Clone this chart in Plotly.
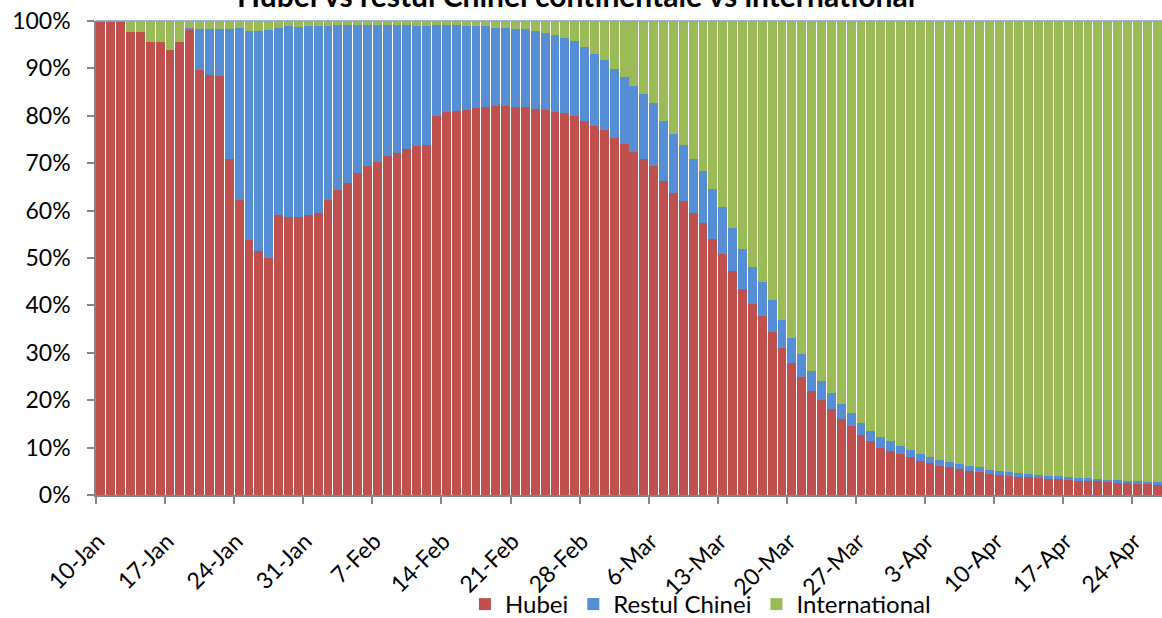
import pandas as pd
import plotly.graph_objects as go

# Share of cumulative cases (%), one value per day starting 10-Jan-2020
hubei = [100, 100, 100, 97.7, 97.7, 95.5, 95.5, 93.8, 95.5, 98.0,
         89.6, 88.7, 88.4, 70.9, 62.2, 53.9, 51.4, 49.9, 59.0, 58.6,
         58.6, 59.0, 59.6, 62.3, 64.3, 65.8, 67.9, 69.5, 70.3, 71.6,
         72.2, 73.1, 73.6, 73.9, 79.9, 80.7, 81.1, 81.3, 81.6, 81.85,
         82.1, 82.0, 81.8, 81.8, 81.4, 81.2, 80.9, 80.5, 80.0, 79.0,
         77.9, 76.9, 75.4, 74.1, 72.3, 70.9, 69.5, 66.2, 63.8, 62.0,
         59.5, 57.4, 54.1, 50.8, 47.2, 43.4, 40.4, 37.7, 34.4, 31.1,
         27.8, 24.9, 21.9, 20.0, 18.1, 16.1, 14.5, 12.7, 11.3, 10.0,
         9.35, 8.57, 7.94, 7.24, 6.67, 6.18, 5.83, 5.4, 4.98, 4.77,
         4.5, 4.25, 4.0, 3.86, 3.7, 3.5, 3.44, 3.3, 3.16, 3.0,
         2.95, 2.87, 2.74, 2.53, 2.45, 2.38, 2.38, 2.17]

# Hubei + rest of mainland China (%)
china_total = [100, 100, 100, 97.7, 97.7, 95.5, 95.5, 93.8, 95.5, 98.6,
               98.3, 98.4, 98.4, 98.4, 98.6, 97.8, 97.9, 98.1, 98.6, 98.9,
               98.7, 98.9, 98.9, 98.9, 99.1, 99.1, 99.1, 99.1, 99.1, 99.1,
               99.1, 99.1, 99.0, 98.9, 99.2, 99.2, 99.1, 98.9, 98.9, 98.9,
               98.6, 98.5, 98.4, 98.3, 97.8, 97.4, 97.0, 96.5, 95.7, 94.6,
               93.1, 91.8, 89.9, 88.2, 86.2, 84.5, 82.8, 79.0, 76.1, 73.8,
               70.9, 68.4, 64.5, 60.7, 56.3, 51.8, 48.0, 44.9, 41.1, 37.0,
               33.2, 29.7, 26.2, 24.0, 21.6, 19.3, 17.4, 15.25, 13.6, 12.2,
               11.3, 10.3, 9.56, 8.7, 8.0, 7.45, 6.88, 6.46, 6.04, 5.83,
               5.35, 5.08, 4.85, 4.6, 4.5, 4.28, 4.1, 4.0, 3.86, 3.65,
               3.5, 3.44, 3.23, 3.08, 3.02, 2.87, 2.8, 2.66]

restul = [round(c - h, 2) for c, h in zip(china_total, hubei)]
international = [round(100 - c, 2) for c in china_total]

start_date = "2020-01-10"
dates = pd.date_range(start_date, periods=len(hubei), freq="D")

tick_labels = ["10-Jan", "17-Jan", "24-Jan", "31-Jan", "7-Feb", "14-Feb", "21-Feb",
               "28-Feb", "6-Mar", "13-Mar", "20-Mar", "27-Mar", "3-Apr", "10-Apr",
               "17-Apr", "24-Apr"]
tick_vals = [pd.to_datetime(t + "-2020", format="%d-%b-%Y") for t in tick_labels]

series_names = ["Hubei", "Restul Chinei", "International"]
series_colors = ["#C0504D", "#558ED5", "#9BBB59"]
series_values = [hubei, restul, international]

FONT = "Lato"

fig = go.Figure()
for name, color, vals in zip(series_names, series_colors, series_values):
    fig.add_trace(go.Bar(
        x=dates, y=vals, name=name,
        xperiod=86400000, xperiodalignment="middle",
        marker=dict(color=color, line=dict(width=0)),
    ))

end_date = dates[-1] + pd.Timedelta(days=1)

fig.update_layout(
    width=1162, height=618,
    barmode="stack", bargap=0.1,
    paper_bgcolor="white", plot_bgcolor="white",
    margin=dict(l=96, r=0, t=21, b=123, pad=0, autoexpand=False),
    font=dict(family=FONT, size=23, color="#000000"),
    showlegend=True,
    legend=dict(orientation="h", x=0.567, xanchor="center", y=-0.231, yanchor="middle",
                bgcolor="rgba(0,0,0,0)", tracegroupgap=0,
                traceorder="normal", font=dict(family=FONT, size=24)),
    xaxis=dict(type="date", range=[dates[0], end_date], automargin=False,
               tickvals=tick_vals, ticktext=tick_labels, tickangle=-45,
               ticks="outside", ticklen=7, tickcolor="#868686", tickwidth=1.5,
               ticklabelstandoff=15, ticklabelshift=2,
               showline=True, linecolor="#868686", linewidth=1.5,
               showgrid=False, zeroline=False,
               tickfont=dict(family=FONT, size=23)),
    yaxis=dict(range=[0, 100], tickvals=list(range(0, 101, 10)), automargin=False,
               ticktext=[f"{v}%" for v in range(0, 101, 10)],
               ticks="outside", ticklen=7, tickcolor="#868686", tickwidth=1.5,
               showline=True, linecolor="#868686", linewidth=1.5,
               showgrid=False, zeroline=False, ticklabelstandoff=12,
               tickfont=dict(family=FONT, size=23)),
    shapes=[dict(type="line", xref="paper", yref="paper", x0=0, x1=1, y0=1, y1=1,
                 line=dict(color="#7FA0CF", width=1.5))],
    annotations=[dict(text="<b>Hubei vs restul Chinei continentale vs international</b>",
                      xref="paper", yref="paper", x=0.4507, y=1.055,
                      xanchor="center", yanchor="middle", showarrow=False,
                      font=dict(family=FONT, size=30, color="#000000"))],
)

fig.write_html(
    "out.html",
    config={"displayModeBar": False},
    post_script="document.body.style.margin='0';document.body.style.overflow='hidden';",
)
